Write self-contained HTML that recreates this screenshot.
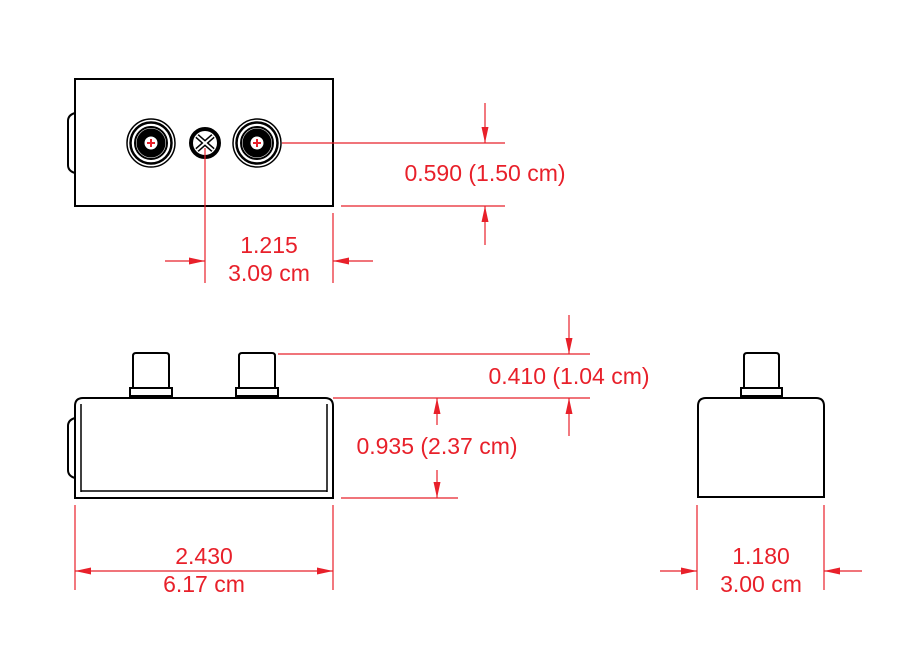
<!DOCTYPE html>
<html><head><meta charset="utf-8"><style>body{margin:0;background:#fff}svg{display:block}text{font-family:"Liberation Sans",sans-serif;font-size:23px;fill:#e8202a;text-anchor:middle}</style></head><body>
<svg width="911" height="660" viewBox="0 0 911 660">
<defs><marker id="a" viewBox="0 0 16 8" refX="16" refY="4" markerWidth="16" markerHeight="8" markerUnits="userSpaceOnUse" orient="auto"><path d="M0,0.5L16,4L0,7.5z" fill="#e8202a"/></marker></defs>
<g fill="none" stroke="#000" stroke-width="2">
<rect x="75" y="79" width="258" height="127"/>
<path d="M75,113q-7,2-7,8v44q0,6,7,8"/>
<g id="j"><circle cx="151" cy="143" r="24" stroke-width="1.5"/><circle cx="151" cy="143" r="20.5" stroke-width="2.5"/><circle cx="151" cy="143" r="16" stroke-width="2"/><circle cx="151" cy="143" r="10.5" stroke-width="8"/></g>
<use href="#j" x="106"/>
<circle cx="205" cy="143" r="14" stroke-width="4"/>
<path d="M197,136l16,14M213,136l-16,14" stroke-width="5"/><path d="M197,136l16,14M213,136l-16,14" stroke="#fff" stroke-width="2"/>
<path d="M75,498V406q0-8,8-8h242q8,0,8,8v92z"/>
<path d="M81,404v88M327,404v88M81,491h246" stroke-width="1.5"/>
<path d="M75,418q-7,2-7,8v44q0,6,7,8"/>
<path d="M133,388v-32q0-3,3-3h30q3,0,3,3v32M130,388h42v8h-42z"/>
<path d="M239,388v-32q0-3,3-3h30q3,0,3,3v32M236,388h42v8h-42z"/>
<path d="M698,497V406q0-8,8-8h110q8,0,8,8v91z"/>
<path d="M744,388v-32q0-3,3-3h29q3,0,3,3v32M741,388h41v8h-41z"/>
</g>
<g fill="#e8202a"><rect x="150" y="139" width="2" height="8"/><rect x="147" y="142" width="8" height="2"/><rect x="256" y="139" width="2" height="8"/><rect x="253" y="142" width="8" height="2"/></g>
<g stroke="#e8202a" stroke-width="1.2" fill="none">
<path d="M282,143H505M341,206H505M205,148V283M333,213V283M278,354H590M333,398H590M341,498H458M75,505V590M333,505V590M697,505V590M824,505V590"/>
<path d="M485,103V143" marker-end="url(#a)"/><path d="M485,245V206" marker-end="url(#a)"/>
<path d="M165,261H205" marker-end="url(#a)"/><path d="M373,261H333" marker-end="url(#a)"/>
<path d="M569,315V354" marker-end="url(#a)"/><path d="M569,436V398" marker-end="url(#a)"/>
<path d="M437,425V398" marker-end="url(#a)"/><path d="M437,470V498" marker-end="url(#a)"/>
<path d="M204,571H75" marker-end="url(#a)"/><path d="M204,571H333" marker-end="url(#a)"/>
<path d="M660,571H697" marker-end="url(#a)"/><path d="M862,571H824" marker-end="url(#a)"/>
</g>
<text x="485" y="181">0.590 (1.50 cm)</text>
<text x="269" y="253">1.215</text><text x="269" y="281">3.09 cm</text>
<text x="569" y="384">0.410 (1.04 cm)</text>
<text x="437" y="454">0.935 (2.37 cm)</text>
<text x="204" y="564">2.430</text><text x="204" y="592">6.17 cm</text>
<text x="761" y="564">1.180</text><text x="761" y="592">3.00 cm</text>
</svg>
</body></html>
